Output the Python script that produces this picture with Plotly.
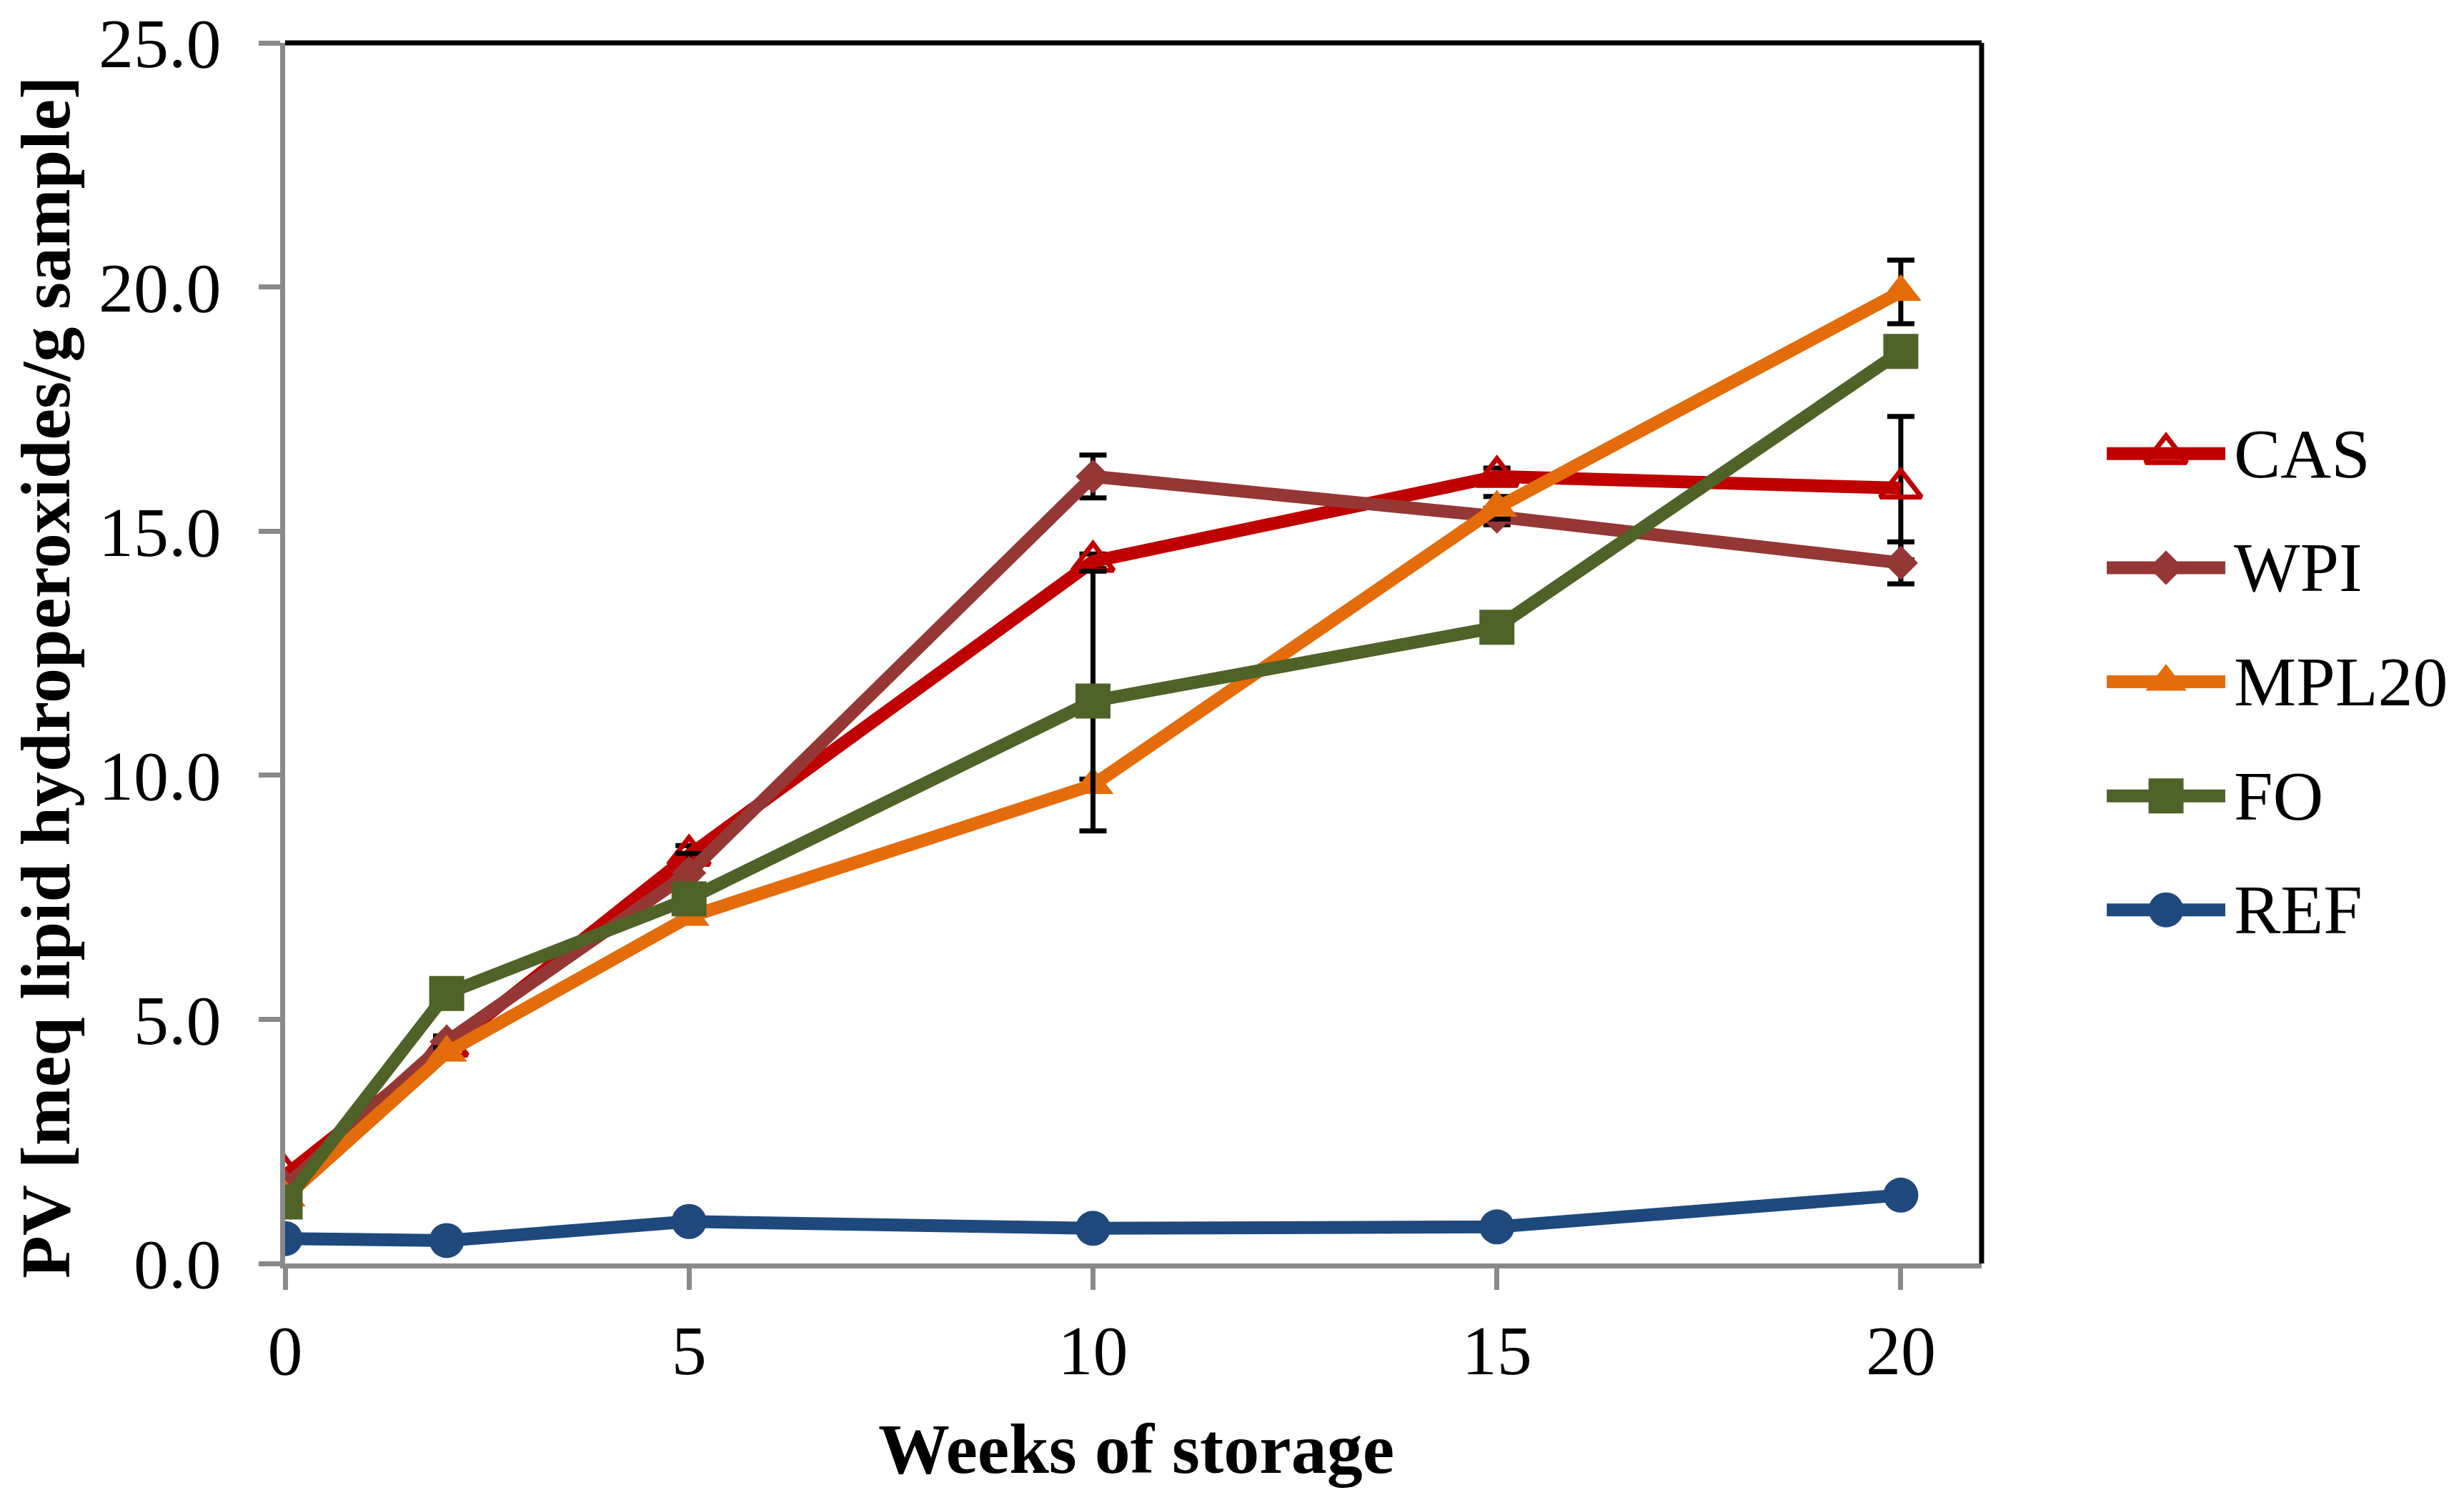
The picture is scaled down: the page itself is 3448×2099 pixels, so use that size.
import plotly.graph_objects as go

# storage weeks and PV values (meq lipid hydroperoxides / g sample)
weeks = [0, 2, 5, 10, 15, 20]

cas = [1.80, 4.45, 8.36, 14.38, 16.12, 15.88]
wpi = [1.58, 4.54, 8.00, 16.12, 15.30, 14.35]
mpl20 = [1.35, 4.32, 7.10, 9.80, 15.48, 19.90]
fo = [1.26, 5.53, 7.47, 11.52, 13.03, 18.68]
ref = [0.51, 0.47, 0.86, 0.72, 0.75, 1.40]

cas_err = [0.10, 0.20, 0.20, 0.15, 0.17, 1.47]
wpi_err = [0.10, 0.12, 0.40, 0.44, 0.17, 0.43]
mpl20_err = [0.10, 0.10, 0.10, 0.12, 0.23, 0.65]
fo_err = [0.10, 0.10, 0.10, 2.66, 0.10, 0.10]
ref_err = [0.05, 0.05, 0.05, 0.05, 0.05, 0.05]

names = ["CAS", "WPI", "MPL20", "FO", "REF"]
x_ticks = [0, 5, 10, 15, 20]
y_ticks = [0, 5, 10, 15, 20, 25]

# legend key: slot of each entry (top to bottom) and sample positions along the key
key_slot = [4, 3, 2, 1, 0]
key_x = [0.0, 0.5, 1.0]

series = [
    # values, errors, colour, symbol, size, marker line width
    (cas, cas_err, "#C00000", "triangle-up-open", 50, 7),
    (wpi, wpi_err, "#953735", "diamond", 37, 0),
    (mpl20, mpl20_err, "#E46C0A", "triangle-up", 50, 0),
    (fo, fo_err, "#4F6228", "square", 49, 0),
    (ref, ref_err, "#1F497D", "circle", 49, 0),
]

GRAY = "#898989"
FONT = "Liberation Serif"

fig = go.Figure()

for name, (vals, errs, col, sym, size, mlw) in zip(names, series):
    fig.add_trace(go.Scatter(
        x=weeks, y=vals, name=name, mode="lines+markers",
        line=dict(color=col, width=18),
        marker=dict(symbol=sym, size=size, color=col, opacity=1,
                    line=dict(color=col, width=mlw)),
        error_y=dict(type="data", array=errs, visible=True,
                     color="black", thickness=7, width=19),
        showlegend=False,
    ))

# hand-built legend on its own hidden axes so the keys keep their full size
for name, slot, (vals, errs, col, sym, size, mlw) in zip(names, key_slot, series):
    fig.add_trace(go.Scatter(
        x=key_x, y=[slot] * len(key_x), mode="lines+markers",
        xaxis="x2", yaxis="y2",
        line=dict(color=col, width=18),
        marker=dict(symbol=sym, size=[0, size, 0], color=col, opacity=1,
                    line=dict(color=col, width=mlw)),
        showlegend=False, hoverinfo="skip",
    ))
    fig.add_annotation(
        x=key_x[-1], y=slot, xref="x2", yref="y2", text=name,
        showarrow=False, xanchor="left", yanchor="middle", xshift=10,
        font=dict(family=FONT, size=98, color="black"),
    )

fig.add_annotation(
    x=0.4589, y=0.0381, xref="paper", yref="paper", text="Weeks of storage",
    showarrow=False, xanchor="center", yanchor="middle",
    font=dict(family=FONT, size=100, color="black", weight="bold"),
)
fig.add_annotation(
    x=0.0, y=0.5522, xref="paper", yref="paper",
    text="PV [meq lipid hydroperoxides/g sample]", textangle=-90,
    showarrow=False, xanchor="left", yanchor="middle",
    font=dict(family=FONT, size=98, color="black", weight="bold"),
)

# black top and right frame of the plot area
fig.add_shape(type="line", xref="x domain", yref="y domain",
              x0=0, x1=1, y0=1, y1=1, line=dict(color="black", width=7))
fig.add_shape(type="line", xref="x domain", yref="y domain",
              x0=1, x1=1, y0=0, y1=1, line=dict(color="black", width=7))

axis_font = dict(family=FONT, size=98, color="black")

fig.update_layout(
    width=3448, height=2099,
    margin=dict(l=0, r=0, t=0, b=0, autoexpand=False),
    paper_bgcolor="white", plot_bgcolor="white",
    font=dict(family=FONT, color="black"),
    xaxis=dict(
        domain=[0.1134, 0.8019], range=[0, 21], automargin=False,
        tickvals=x_ticks, ticks="outside", ticklen=30, tickwidth=7,
        tickcolor=GRAY, showline=True, linewidth=7, linecolor=GRAY,
        showgrid=False, zeroline=False, tickfont=axis_font,
        ticklabelstandoff=0, ticklabeloverflow="allow",
    ),
    yaxis=dict(
        domain=[0.1615, 0.9752], range=[0, 25], automargin=False,
        tickvals=y_ticks, tickformat=".1f", ticks="outside", ticklen=30,
        tickwidth=7, tickcolor=GRAY, showline=True, linewidth=7,
        linecolor=GRAY, showgrid=False, zeroline=False, tickfont=axis_font,
        ticklabelstandoff=33, ticklabeloverflow="allow",
    ),
    xaxis2=dict(domain=[0.8527, 0.9008], range=[0, 1], visible=False,
                anchor="y2", automargin=False),
    yaxis2=dict(domain=[0.3592, 0.7394], range=[-0.5, 4.5], visible=False,
                anchor="x2", automargin=False),
)

fig.write_html("out.html", config={"displayModeBar": False})
